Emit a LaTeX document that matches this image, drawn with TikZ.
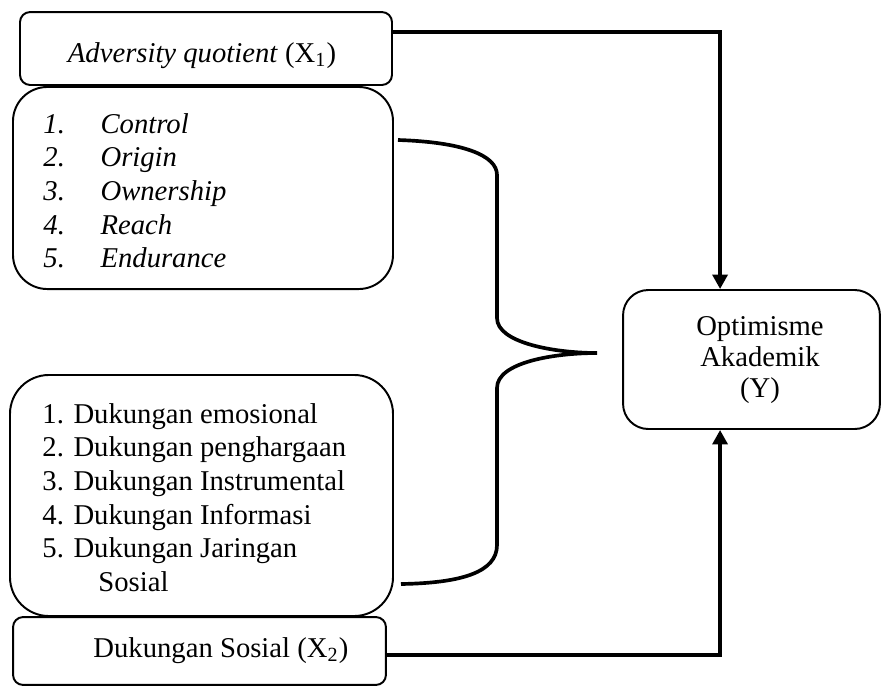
\documentclass[tikz,border=0pt]{standalone}
\usepackage{fontspec}
\setmainfont{Liberation Serif}
\usetikzlibrary{arrows.meta}
\tikzset{
  box/.style={draw, line width=0.85pt, rounded corners=#1, inner sep=0pt},
  box/.default=4.4pt,
  link/.style={line width=1.6pt},
  head/.style={-{Triangle[length=6.3pt,width=6.5pt]}},
  lbl/.style={font=\fontsize{12.5}{14.7}\selectfont, inner sep=0pt, anchor=base west},
}

\begin{document}
\begin{tikzpicture}[x=0.436pt, y=-0.436pt]
    \useasboundingbox (0,0) rectangle (881,687);

    % boxes
    \node [box, minimum width=162.2pt, minimum height=31.8pt] (x1) at (206,48.5) {};
    \node [box=15pt, minimum width=165.7pt, minimum height=88.1pt] (aq) at (203,188) {};
    \node [box=17pt, minimum width=167pt, minimum height=105.1pt] (ss) at (201.5,495.5) {};
    \node [box, minimum width=162.6pt, minimum height=29.6pt] (x2) at (199.5,651) {};
    \node [box=11pt, minimum width=112pt, minimum height=60.6pt] (y) at (751.5,359.5) {};

    % texts
    \node [lbl, anchor=base] (x1txt) at (202,62) {\textit{Adversity quotient} (X\textsubscript{1})};
    \node [lbl] (aqtxt) at (43,133) {\itshape\begin{tabular}[t]{@{}p{24.9pt}@{}l@{}}
      1. & Control\\ 2. & Origin\\ 3. & Ownership\\ 4. & Reach\\ 5. & Endurance
    \end{tabular}};
    \node [lbl] (sstxt) at (42,423) {\begin{tabular}[t]{@{}l@{}}
      1. Dukungan emosional\\ 2. Dukungan penghargaan\\ 3. Dukungan Instrumental\\
      4. Dukungan Informasi\\ 5. Dukungan Jaringan\\ \hspace*{24.4pt}Sosial
    \end{tabular}};
    \node [lbl] (x2txt) at (93,657) {Dukungan Sosial (X\textsubscript{2})};
    \node [lbl, anchor=base] (ytxt) at (760,335) {\begin{tabular}[t]{@{}c@{}}
      Optimisme\\[-1pt] Akademik\\[-1pt] (Y)
    \end{tabular}};

    % brace
    \coordinate (bracetop) at (398,140);
    \coordinate (bracetip) at (597,353);
    \coordinate (bracebot) at (401,584);
    \draw [link] (bracetop) .. controls (462,142) and (497,155) .. (497,175) -- (497,318)
      .. controls (497,343) and (555,353) .. (bracetip)
      .. controls (555,353) and (497,362) .. (497,388) -- (497,545)
      .. controls (497,572) and (462,583) .. (bracebot);

    % arrows
    \draw [link, head] ([yshift=7.2pt]x1.east) -| ([xshift=-13.7pt]y.north);
    \draw [link, head] ([yshift=-1.7pt]x2.east) -| ([xshift=-13.7pt]y.south);
  \end{tikzpicture}
\end{document}
